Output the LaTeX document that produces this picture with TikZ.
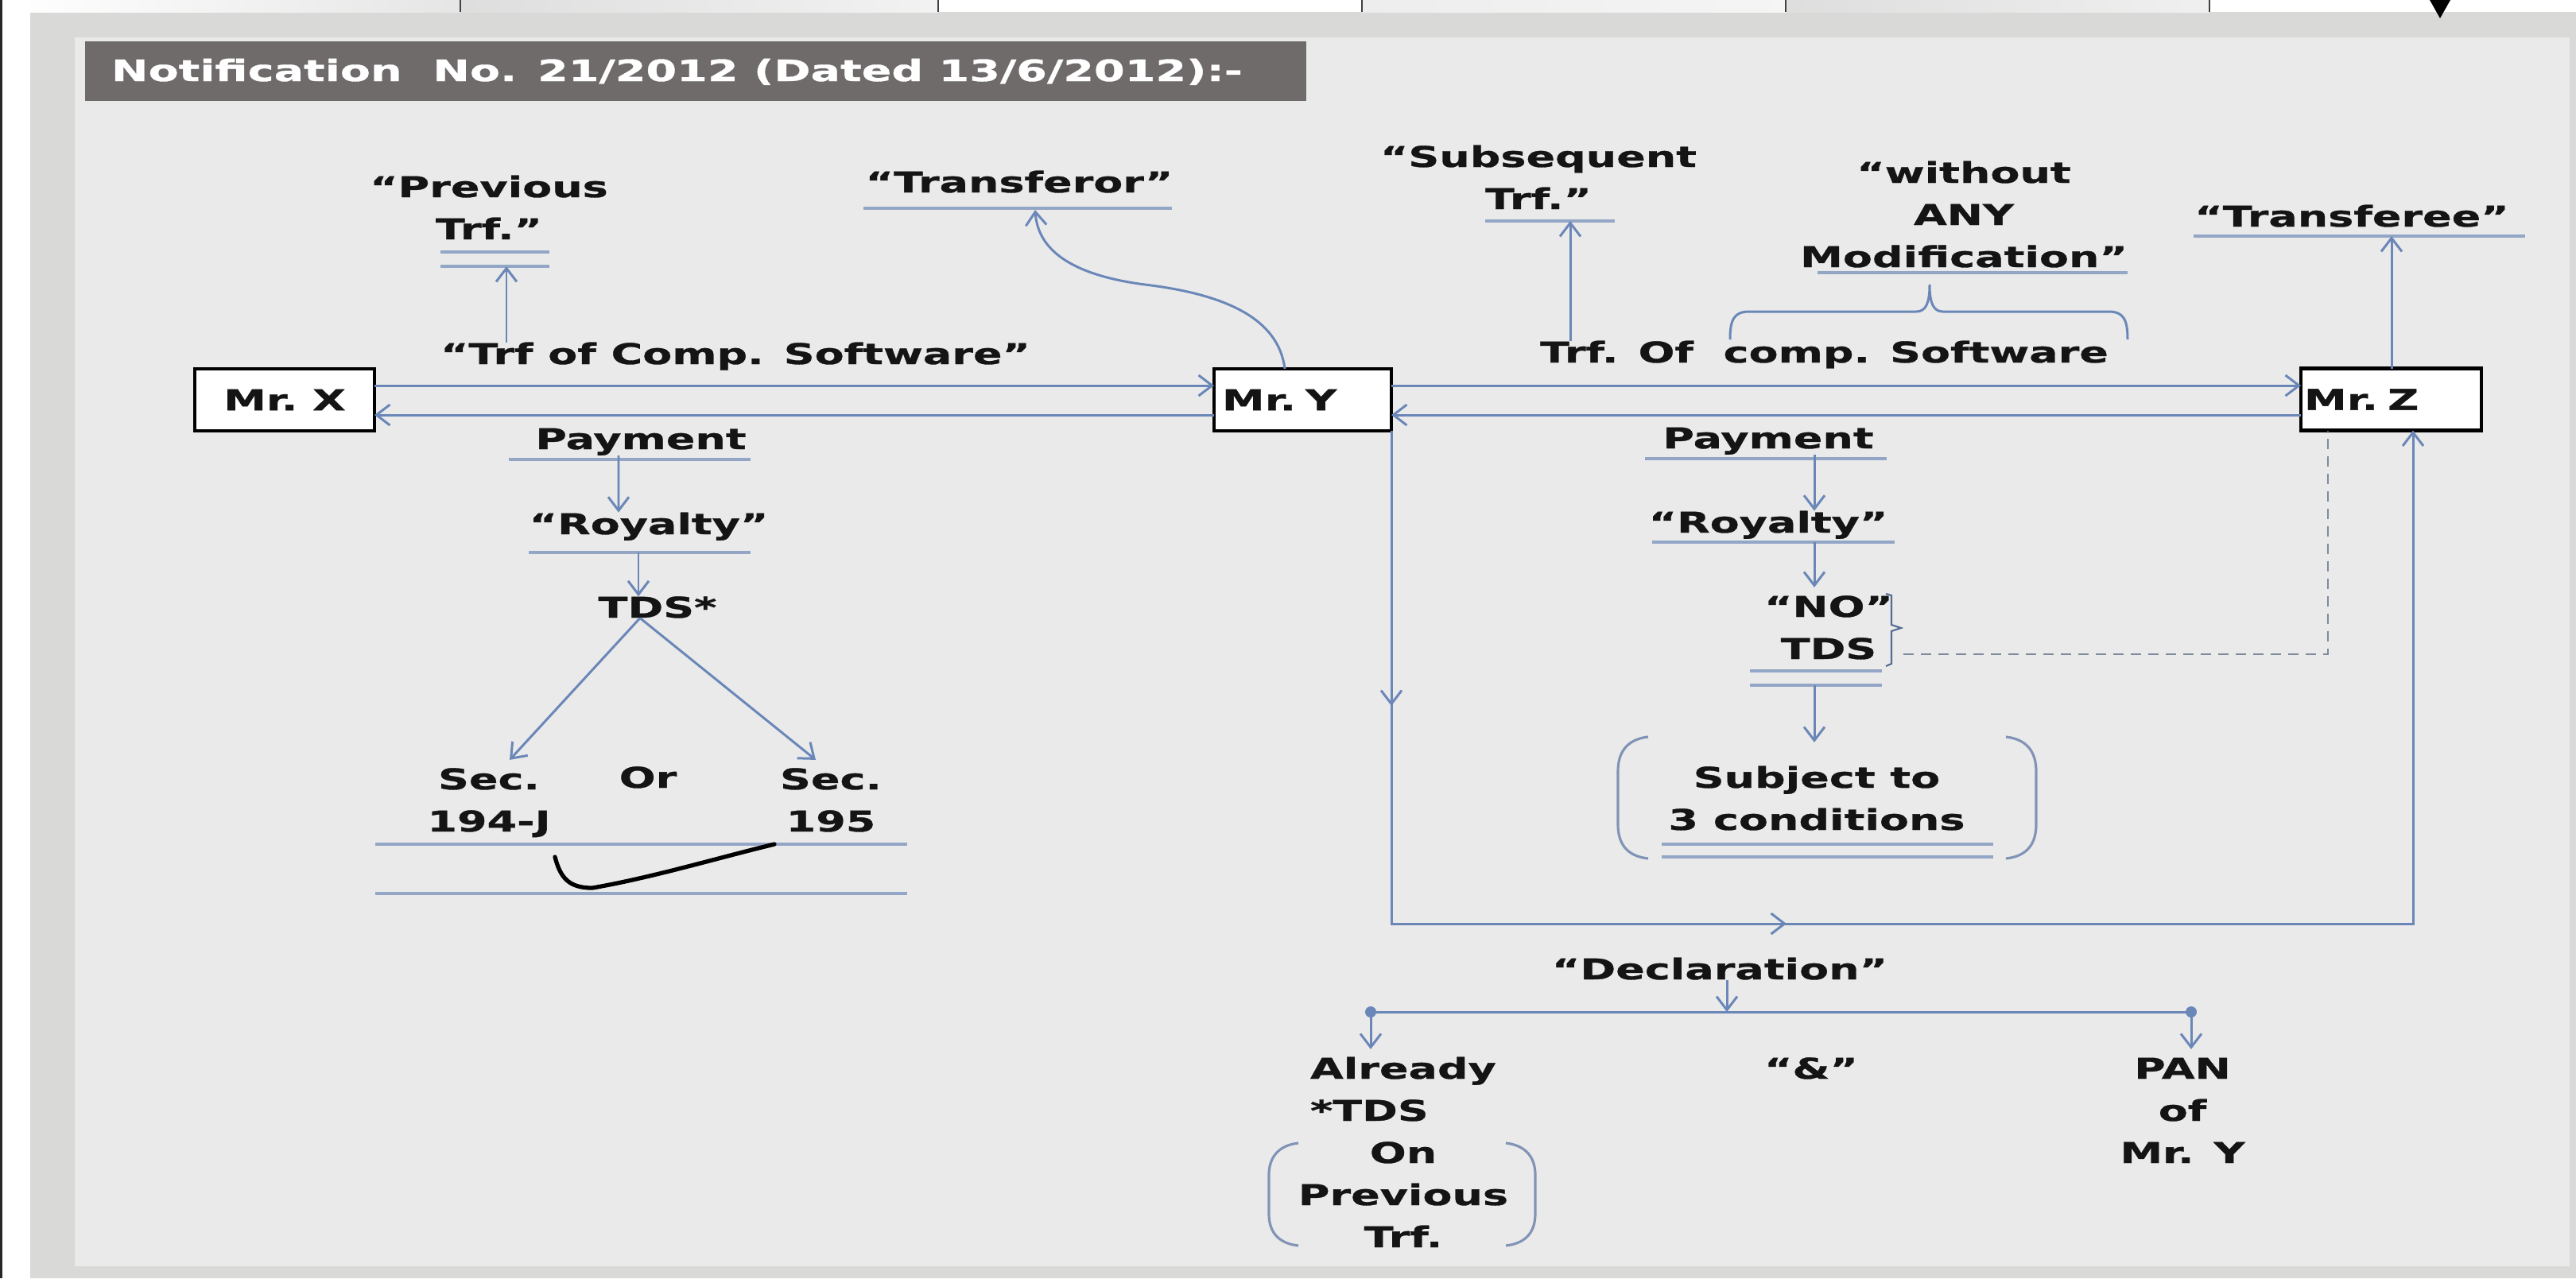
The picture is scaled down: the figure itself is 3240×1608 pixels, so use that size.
\documentclass[tikz,border=0pt]{standalone}
\usepackage{fontspec}
\setmainfont{DejaVu Sans}[FakeStretch=1.5, BoldFeatures={FakeBold=0.9}]
\usetikzlibrary{arrows.meta,decorations.markings}
\definecolor{rimgray}{HTML}{D9D9D7}
\definecolor{panelgray}{HTML}{EAEAEA}
\definecolor{bandgray}{HTML}{6F6B6B}
\definecolor{linkblue}{HTML}{6A87B8}
\definecolor{rulecol}{HTML}{93A6C6}
\definecolor{brackcol}{HTML}{8194B6}
\definecolor{dashcol}{HTML}{7F8A9C}
\newcommand\lblfont{\fontsize{10.24pt}{15.08pt}\selectfont\bfseries}
\newcommand\stk[2][c]{\begin{tabular}[t]{@{}#1@{}}#2\end{tabular}}

\begin{document}
\begin{tikzpicture}[x=0.1mm, y=-0.1mm,
  every node/.style={inner sep=0pt, outer sep=0pt, font=\lblfont, text=black!92},
  txt/.style={anchor=base},
  txtw/.style={anchor=base west},
  person/.style={draw=black, line width=1.4pt, fill=white, minimum height=7.8mm},
  conn/.style={draw=linkblue, color=linkblue, line width=0.85pt},
  arr/.style={conn, -{Straight Barb[length=1.7mm,width=2.6mm]}},
  ul/.style={draw=rulecol, line width=1pt},
  paren/.style={draw=brackcol, line width=0.9pt},
]
\useasboundingbox (0,0) rectangle (3240,1608);

% ---- frame and background ----
\fill[rimgray] (0,0) rectangle (3240,1608);
\fill[white] (0,0) rectangle (3240,15);
\shade[left color=white, right color=black!10] (3,0) rectangle (579,15);
\shade[left color=black!13, right color=black!5] (579,0) rectangle (1180,15);
\shade[left color=black!7, right color=black!4] (1713,0) rectangle (2246,15);
\shade[left color=black!13, right color=black!6] (2246,0) rectangle (2779,15);
\foreach \tx in {579,1180,1713,2246,2779}
  \draw[black!75, line width=0.6pt] (\tx,0) -- (\tx,15);
\fill[black] (3056,0) -- (3082,0) -- (3069,23) -- cycle;
\fill[white] (3,0) rectangle (38,1608);
\fill[black!85] (0,0) rectangle (3,1608);
\fill[panelgray] (94,47) rectangle (3232,1593);

% ---- title band ----
\fill[bandgray] (107,52) rectangle (1643,127);
\node[txtw, text=white, font=\fontsize{10.55pt}{13pt}\selectfont\bfseries] (hdr) at (140,102)
  {Notification~~No. 21/2012 (Dated 13/6/2012):-};

% ---- parties ----
\node[person, minimum width=22.6mm] (mx) at (358,503) {Mr.~X};
\node[person, text width=20.3mm, align=left, inner xsep=1mm] (my) at (1638.5,503) {Mr.~Y};
\node[person, text width=21.9mm, align=left, inner xsep=0.4mm] (mz) at (3007.5,502.5) {Mr.~Z};

% ---- labels, upper part ----
\node[txt] (tprev) at (615,248) {\stk{“Previous\\Trf.”}};
\node[txt] (ttor) at (1282,242) {“Transferor”};
\node[txt] (tsub) at (1935,210) {\stk{“Subsequent\\Trf.”}};
\node[txt] (two) at (2470,230) {\stk{“without\\ANY\\Modification”}};
\node[txt] (ttee) at (2958,285) {“Transferee”};
\node[txtw] (tcs1) at (554,458) {“Trf of Comp. Software”};
\node[txtw] (tcs2) at (1937,456) {Trf. Of~~comp. Software};

% ---- labels, left branch ----
\node[txt] (pay1) at (806,565) {Payment};
\node[txt] (roy1) at (816,672) {“Royalty”};
\node[txt] (tds1) at (827,777) {TDS*};
\node[txt] (sec1) at (615,993) {\stk{Sec.\\194-J}};
\node[txt] (or) at (815,991) {Or};
\node[txt] (sec2) at (1045,993) {\stk{Sec.\\195}};

% ---- labels, right branch ----
\node[txt] (pay2) at (2224,564) {Payment};
\node[txt] (roy2) at (2224,670) {“Royalty”};
\node[txt] (notds) at (2300,776) {\stk{“NO”\\TDS}};
\node[txt] (subj) at (2285,991) {\stk{Subject to\\3 conditions}};
\node[txt] (decl) at (2163,1232) {“Declaration”};
\node[txt] (amp) at (2278,1357) {“\&”};
\node[txt] (pan) at (2745,1357) {\stk{PAN\\of\\Mr. Y}};
\node[txtw] (alr) at (1648,1357) {\stk[l]{Already\\{*}TDS}};
\node[txt] (onprev) at (1765,1463) {\stk{On\\Previous\\Trf.}};

% ---- underlines ----
\draw[ul] (554,317) -- (691,317);
\draw[ul] (554,335) -- (691,335);
\draw[ul] (1086,262) -- (1474,262);
\draw[ul] (1868,278) -- (2031,278);
\draw[ul] (2286,343) -- (2676,343);
\draw[ul] (2759,297) -- (3176,297);
\draw[ul] (640,578) -- (944,578);
\draw[ul] (665,695) -- (944,695);
\draw[ul] (472,1062) -- (1141,1062);
\draw[ul] (472,1124) -- (1141,1124);
\draw[ul] (2069,577) -- (2373,577);
\draw[ul] (2078,682) -- (2383,682);
\draw[ul] (2201,844) -- (2367,844);
\draw[ul] (2201,862) -- (2367,862);
\draw[ul] (2090,1062) -- (2507,1062);
\draw[ul] (2090,1078) -- (2507,1078);

% ---- brackets ----
\draw[conn] (2176,427) .. controls (2176,402) and (2181,392) .. (2200,392)
  -- (2410,392) .. controls (2422,392) and (2427,382) .. (2427,358)
  .. controls (2427,382) and (2432,392) .. (2444,392)
  -- (2652,392) .. controls (2671,392) and (2676,402) .. (2676,427);
\draw[paren] (2073,927) .. controls (2045,930) and (2035,948) .. (2035,970)
  -- (2035,1037) .. controls (2035,1060) and (2045,1077) .. (2073,1080);
\draw[paren] (2523,927) .. controls (2551,930) and (2561,948) .. (2561,970)
  -- (2561,1037) .. controls (2561,1060) and (2551,1077) .. (2523,1080);
\draw[paren] (1633,1438) .. controls (1606,1441) and (1596,1458) .. (1596,1478)
  -- (1596,1527) .. controls (1596,1548) and (1606,1564) .. (1633,1567);
\draw[paren] (1894,1438) .. controls (1921,1441) and (1931,1458) .. (1931,1478)
  -- (1931,1527) .. controls (1931,1548) and (1921,1564) .. (1894,1567);
\draw[draw=linkblue!80!black, line width=0.6pt]
  (2372,747) -- (2379,749) -- (2379,786) -- (2391,790) -- (2379,794) -- (2379,835) -- (2372,838);

% ---- check mark ----
\draw[black, line width=1.5pt, line cap=round]
  (698,1078) .. controls (705,1105) and (716,1117) .. (745,1117)
  .. controls (820,1104) and (900,1080) .. (974,1062);

% ---- connector end points ----
\coordinate (hiY) at (0,485);
\coordinate (loY) at (0,522);
\coordinate (pv) at (637,335);
\coordinate (sv) at (1975,278);
\coordinate (tv) at (3008,297);
\coordinate (ttv) at (1302,264);
\coordinate (ur1) at (803,695);
\coordinate (ur2) at (2282,682);
\coordinate (un2) at (2282,862);
\coordinate (lp) at (3035,1162);
\coordinate (bq) at (2394,823);
\coordinate (dv) at (2172,1273);
\coordinate (bl) at (1724,1273);
\coordinate (br) at (2756,1273);

% ---- flows between the parties ----
\draw[arr] (mx.east |- hiY) -- (my.west |- hiY);
\draw[arr] (my.west |- loY) -- (mx.east |- loY);
\draw[arr] (my.east |- hiY) -- (mz.west |- hiY);
\draw[arr] (mz.west |- loY) -- (my.east |- loY);

% ---- upward pointers ----
\draw[arr] (tcs1.north -| pv) -- (pv);
\draw[arr] (tcs2.north -| sv) -- (sv);
\draw[arr] (mz.north -| tv) -- (tv);
\draw[arr] ([xshift=-2.25mm]my.north) .. controls (1608,400) and (1540,370) .. (1440,358)
  .. controls (1340,345) and (1305,310) .. (ttv);

% ---- left chain ----
\draw[arr] ([xshift=-2.8mm]pay1.south) -- ([xshift=-3.8mm]roy1.north);
\draw[arr] (ur1) -- (tds1.north -| ur1);
\draw[arr] ([xshift=-2.2mm]tds1.south) -- ([xshift=2.6mm]sec1.north);
\draw[arr] ([xshift=-2.2mm]tds1.south) -- ([xshift=-1.9mm]sec2.north);

% ---- right chain ----
\draw[arr] ([xshift=5.8mm]pay2.south) -- ([xshift=5.8mm]roy2.north);
\draw[arr] (ur2) -- (notds.north -| ur2);
\draw[arr] (un2) -- ([yshift=2mm]subj.north -| un2);

% ---- loop from Mr. Y round to Mr. Z ----
\draw[arr, postaction={decorate}, decoration={markings,
    mark=at position 3.46cm with {\arrow{Straight Barb[length=1.7mm,width=2.6mm]}},
    mark=at position 11.17cm with {\arrow{Straight Barb[length=1.7mm,width=2.6mm]}}}]
  (my.south east) -- (my.south east |- lp) -- (lp) -- (mz.south -| lp);

% ---- dashed link to Mr. Z ----
\draw[draw=dashcol, line width=0.8pt, dash pattern=on 1.3mm off 0.9mm]
  (bq) -| ([xshift=-7.95mm]mz.south);

% ---- declaration ----
\draw[arr] (decl.south -| dv) -- (dv);
\draw[conn] (bl) -- (br);
\fill[linkblue] (bl) circle (0.7mm);
\fill[linkblue] (br) circle (0.7mm);
\draw[arr] (bl) -- (alr.north -| bl);
\draw[arr] (br) -- (pan.north -| br);

\end{tikzpicture}
\end{document}
